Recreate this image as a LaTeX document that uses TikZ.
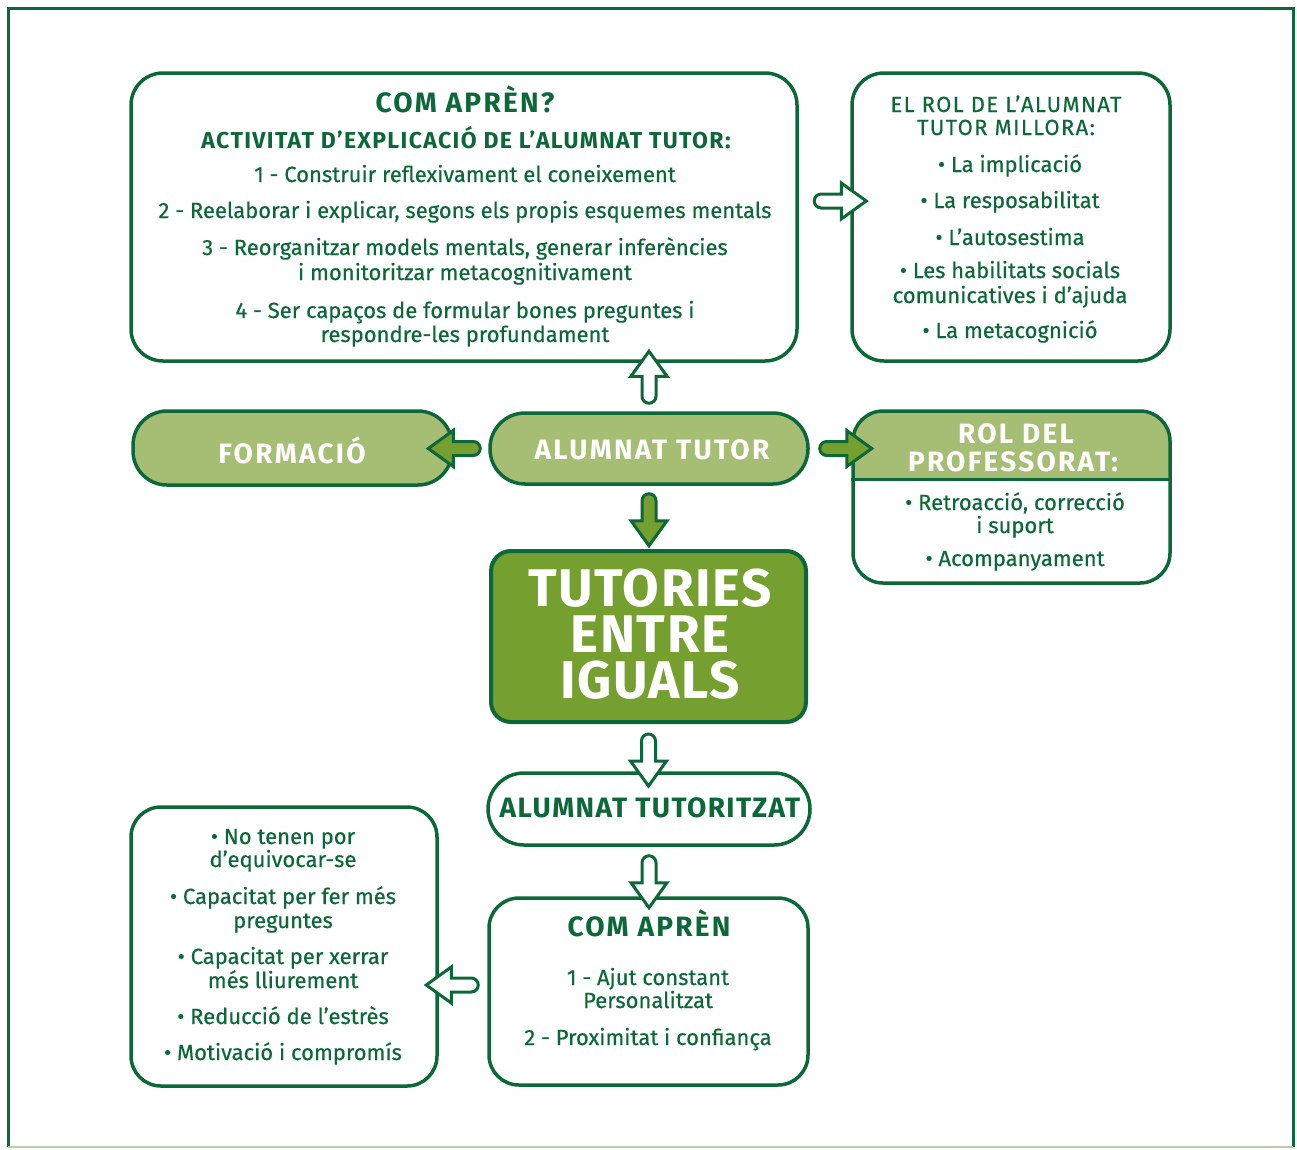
\documentclass[tikz,border=0pt]{standalone}
\usepackage{fontspec}
\setmainfont{Fira Sans}[UprightFeatures={FakeBold=0.4}]
\definecolor{dgreen}{RGB}{12,104,56}
\definecolor{lgreen}{RGB}{166,190,116}
\definecolor{mgreen}{RGB}{117,160,47}
\begin{document}
\begin{tikzpicture}[x=1pt, y=-1pt,
    frame/.style={draw=dgreen, line width=3.5pt, fill=white, inner sep=0pt},
    body/.style={text=dgreen, anchor=base, inner sep=0pt, font=\fontsize{22}{24}\selectfont},
    title/.style={body, font=\bfseries\fontsize{28}{30}\selectfont\addfontfeatures{LetterSpace=8}},
    label/.style={title, text=white},
    pics/barrow/.style={code={
      \draw[pic actions, line width=3pt, line join=miter]
        (7,-7) -- (27,-7) -- (27,-18) -- (52,0) -- (27,18) -- (27,7) -- (7,7)
        arc[start angle=90, end angle=270, radius=7] -- cycle;
    }}]
    \useasboundingbox (0,0) rectangle (1297,1149);

    % outer frame
    \draw[dgreen, line width=3pt] (8,1147) -- (8,8) -- (1293,8) -- (1293,1147);
    \draw[lgreen!80!dgreen!60, line width=2pt] (8,1147) -- (1293,1147);

    % boxes
    \node[frame, minimum width=666, minimum height=288, rounded corners=32] (apren) at (464,217) {};
    \node[frame, minimum width=318, minimum height=288, rounded corners=32] (millora) at (1011,217) {};
    \node[frame, fill=lgreen, minimum width=319, minimum height=74, rounded corners=34] (formacio) at (292.5,448) {};
    \node[frame, fill=lgreen, minimum width=318, minimum height=71, rounded corners=35] (tutor) at (649,448.5) {};
    \node[frame, minimum width=317, minimum height=172, rounded corners=30,
      path picture={\fill[lgreen, sharp corners] (path picture bounding box.north west)
        rectangle ([yshift=-70pt]path picture bounding box.north east);}] (rol) at (1011.5,497) {};
    \draw[dgreen, line width=3.5pt] ([yshift=-70pt]rol.north west) -- ([yshift=-70pt]rol.north east);
    \node[frame, fill=mgreen, line width=4pt, minimum width=315, minimum height=171, rounded corners=20] (iguals) at (648.5,636.5) {};
    \node[frame, minimum width=322, minimum height=72, rounded corners=36] (tutoritzat) at (649,809) {};
    \node[frame, minimum width=319, minimum height=187, rounded corners=30] (comapren) at (648.5,991.5) {};
    \node[frame, minimum width=306, minimum height=279, rounded corners=30] (beneficis) at (284,946.5) {};

    % arrows
    \pic[rotate=90, draw=dgreen, fill=white] at ([yshift=8pt]tutor.north) {barrow};
    \pic[rotate=180, draw=dgreen, fill=mgreen] at ([xshift=-8pt]tutor.west) {barrow};
    \pic[draw=dgreen, fill=mgreen] at ([xshift=10pt]tutor.east) {barrow};
    \pic[rotate=-90, draw=dgreen, fill=mgreen] at ([yshift=-8pt]tutor.south) {barrow};
    \pic[draw=dgreen, fill=white] at ([xshift=-36pt]millora.west |- 0,201) {barrow};
    \pic[rotate=-90, draw=dgreen, fill=white] at ([yshift=-10pt]iguals.south) {barrow};
    \pic[rotate=-90, draw=dgreen, fill=white] at ([yshift=-9pt]tutoritzat.south) {barrow};
    \pic[rotate=180, draw=dgreen, fill=white] at ([xshift=-9pt]comapren.west |- 0,985) {barrow};

    % text: com apren?
    \node[title] (apren-t) at (465,112) {COM APRÈN?};
    \node[body, font=\bfseries\fontsize{23}{24}\selectfont\addfontfeatures{LetterSpace=6}] (apren-s) at (466,148) {ACTIVITAT D'EXPLICACIÓ DE L’ALUMNAT TUTOR:};
    \foreach \y/\t [count=\i] in {182/{1 - Construir reflexivament el coneixement},
        218/{2 - Reelaborar i explicar, segons els propis esquemes mentals},
        255/{3 - Reorganitzar models mentals, generar inferències},
        280/{i monitoritzar metacognitivament},
        318/{4 - Ser capaços de formular bones preguntes i},
        342/{respondre-les profundament}}
      \node[body] (apren-l\i) at (465,\y) {\t};

    % text: rol de l'alumnat tutor
    \node[body, font=\fontsize{22}{24}\selectfont\addfontfeatures{LetterSpace=6}] (millora-t1) at (1006,112) {EL ROL DE L’ALUMNAT};
    \node[body, font=\fontsize{22}{24}\selectfont\addfontfeatures{LetterSpace=6}] (millora-t2) at (1006,135) {TUTOR MILLORA:};
    \foreach \y/\t [count=\i] in {172/{• La implicació}, 208/{• La resposabilitat}, 245/{• L’autosestima},
        278/{• Les habilitats socials}, 303/{comunicatives i d’ajuda},
        338/{• La metacognició}}
      \node[body] (millora-l\i) at (1010,\y) {\t};

    % text: central nodes
    \node[label] (formacio-t) at (292,463) {FORMACIÓ};
    \node[label] (tutor-t) at (652,459) {ALUMNAT TUTOR};
    \node[label] (rol-t1) at (1016,443) {ROL DEL};
    \node[label] (rol-t2) at (1013,471) {PROFESSORAT:};
    \foreach \y/\t [count=\i] in {510/{• Retroacció, correcció}, 533/{i suport}, 566/{• Acompanyament}}
      \node[body] (rol-l\i) at (1015,\y) {\t};
    \node[label, anchor=center, align=center, font=\bfseries\fontsize{53}{46}\selectfont\addfontfeatures{LetterSpace=3}] (iguals-t) at (650,634.5) {TUTORIES\\ENTRE\\IGUALS};
    \node[title, font=\bfseries\fontsize{28}{30}\selectfont\addfontfeatures{LetterSpace=5}] (tutoritzat-t) at (650,817) {ALUMNAT TUTORITZAT};

    % text: com apren
    \node[title] (comapren-t) at (649,936) {COM APRÈN};
    \foreach \y/\t [count=\i] in {985/{1 - Ajut constant}, 1008/{Personalitzat}, 1045/{2 - Proximitat i confiança}}
      \node[body] (comapren-l\i) at (648,\y) {\t};

    % text: beneficis
    \foreach \y/\t [count=\i] in {844/{• No tenen por}, 867/{d’equivocar-se},
        904/{• Capacitat per fer més}, 928/{preguntes},
        964/{• Capacitat per xerrar}, 988/{més lliurement},
        1024/{• Reducció de l’estrès}, 1060/{• Motivació i compromís}}
      \node[body] (beneficis-l\i) at (283,\y) {\t};
\end{tikzpicture}
\end{document}
